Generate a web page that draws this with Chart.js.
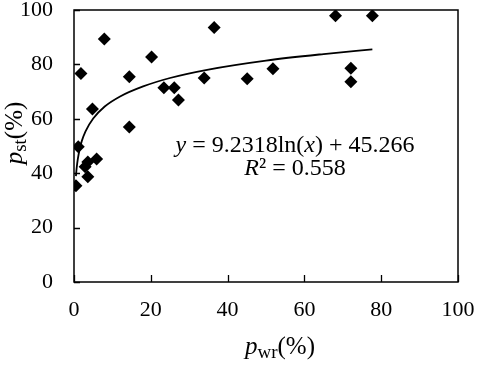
<!DOCTYPE html>
<html>
<head>
<meta charset="utf-8">
<script src="https://cdn.jsdelivr.net/npm/chart.js@4/dist/chart.umd.min.js"></script>
<style>
html,body{margin:0;padding:0;background:#fff;}
#wrap{width:477px;height:366px;position:relative;}
</style>
</head>
<body>
<div id="wrap"><canvas id="c" width="477" height="366"></canvas></div>
<script>
// Observed points: p_wr (%) and p_st (%)
const pwr = [0.5, 1.1, 1.8, 4.8, 3.6, 2.9, 3.6, 5.9, 7.9, 14.4, 14.4, 20.2, 23.4, 26.1, 27.2, 33.9, 36.5, 45.1, 51.8, 68.1, 77.7, 72.1, 72.1];
const pst = [35.4, 49.7, 76.7, 63.6, 44.1, 42.4, 38.7, 45.2, 89.3, 75.5, 57.0, 82.7, 71.4, 71.4, 66.9, 75.0, 93.6, 74.7, 78.4, 97.9, 97.9, 78.6, 73.6];
// Trendline (curve y = 9.2318ln(x) + 45.266)
const trendX = [0.5, 0.7, 1, 1.5, 2, 3, 5, 8, 12, 18, 25, 35, 50, 65, 77.7];
const trendY = [38.9, 42.0, 45.3, 49.0, 51.7, 55.4, 60.1, 64.5, 68.2, 71.9, 75.0, 78.1, 81.4, 83.8, 85.5];
const xTicks = [0, 20, 40, 60, 80, 100];
const yTicks = [0, 20, 40, 60, 80, 100];
const eqText = ['y', ' = 9.2318ln(', 'x', ') + 45.266'];
const r2Text = ['R', '²', ' = 0.558'];

const SERIF = '"Liberation Serif", "DejaVu Serif", serif';

const scatterData = pwr.map((v, i) => ({x: v, y: pst[i]}));
const trendData = trendX.map((v, i) => ({x: v, y: trendY[i]}));

function drawRuns(ctx, runs, cx, baseline) {
  let total = 0;
  runs.forEach(r => { ctx.font = r.font; r.w = ctx.measureText(r.t).width; total += r.w; });
  let x = cx - total / 2;
  runs.forEach(r => {
    ctx.font = r.font;
    ctx.fillText(r.t, x, baseline + (r.dy || 0));
    x += r.w;
  });
}

const decor = {
  id: 'decor',
  afterDraw(chart) {
    const ctx = chart.ctx;
    const a = chart.chartArea;
    const xs = chart.scales.x, ys = chart.scales.y;
    ctx.save();
    ctx.strokeStyle = '#000';
    ctx.lineWidth = 1.5;
    ctx.strokeRect(a.left, a.top, a.right - a.left, a.bottom - a.top);
    ctx.lineWidth = 1.3;
    ctx.beginPath();
    xTicks.forEach(v => {
      const px = Math.round(xs.getPixelForValue(v)) + 0.5;
      ctx.moveTo(px, a.bottom); ctx.lineTo(px, a.bottom - 7);
    });
    yTicks.forEach(v => {
      const py = Math.round(ys.getPixelForValue(v)) + 0.5;
      ctx.moveTo(a.left, py); ctx.lineTo(a.left + 6, py);
    });
    ctx.stroke();

    ctx.fillStyle = '#000';
    ctx.textBaseline = 'alphabetic';
    ctx.textAlign = 'left';
    // x-axis title
    drawRuns(ctx, [
      {t: 'p', font: 'italic 25px ' + SERIF},
      {t: 'wr', font: '19px ' + SERIF, dy: 4},
      {t: '(%)', font: '25px ' + SERIF}
    ], 280, 354);
    // y-axis title (rotated)
    ctx.save();
    ctx.translate(22, 133);
    ctx.rotate(-Math.PI / 2);
    drawRuns(ctx, [
      {t: 'p', font: 'italic 25px ' + SERIF},
      {t: 'st', font: '19px ' + SERIF, dy: 4},
      {t: '(%)', font: '25px ' + SERIF}
    ], 0, 0);
    ctx.restore();
    // equation
    drawRuns(ctx, [
      {t: eqText[0], font: 'italic 24px ' + SERIF},
      {t: eqText[1], font: '24px ' + SERIF},
      {t: eqText[2], font: 'italic 24px ' + SERIF},
      {t: eqText[3], font: '24px ' + SERIF}
    ], 295, 152);
    drawRuns(ctx, [
      {t: r2Text[0], font: 'italic 24px ' + SERIF},
      {t: r2Text[1], font: '24px ' + SERIF},
      {t: r2Text[2], font: '24px ' + SERIF}
    ], 295, 175);
    ctx.restore();
  }
};

new Chart(document.getElementById('c'), {
  type: 'scatter',
  data: {
    datasets: [
      {
        label: 'trend',
        type: 'line',
        data: trendData,
        borderColor: '#000',
        borderWidth: 1.8,
        pointRadius: 0,
        fill: false,
        cubicInterpolationMode: 'monotone',
        order: 2
      },
      {
        label: 'data',
        data: scatterData,
        pointStyle: 'rectRot',
        pointRadius: 6.5,
        pointHoverRadius: 6.5,
        backgroundColor: '#000',
        borderColor: '#000',
        borderWidth: 0,
        order: 1
      }
    ]
  },
  options: {
    responsive: false,
    animation: false,
    events: [],
    layout: {padding: {top: 10, right: 19, left: 0, bottom: 0}},
    plugins: {legend: {display: false}, tooltip: {enabled: false}},
    scales: {
      x: {
        type: 'linear', min: 0, max: 100,
        afterBuildTicks: s => { s.ticks = xTicks.map(v => ({value: v})); },
        afterFit: s => { s.height = 84; s.paddingLeft = 0; s.paddingRight = 0; },
        grid: {display: false, drawTicks: false},
        border: {display: false},
        ticks: {color: '#000', padding: 15, maxRotation: 0, font: {family: SERIF, size: 22}}
      },
      y: {
        type: 'linear', min: 0, max: 100,
        afterBuildTicks: s => { s.ticks = yTicks.map(v => ({value: v})); },
        afterFit: s => { s.width = 74; s.paddingTop = 0; s.paddingBottom = 0; },
        grid: {display: false, drawTicks: false},
        border: {display: false},
        ticks: {color: '#000', padding: 21, font: {family: SERIF, size: 22}}
      }
    }
  },
  plugins: [decor]
});
</script>
</body>
</html>
